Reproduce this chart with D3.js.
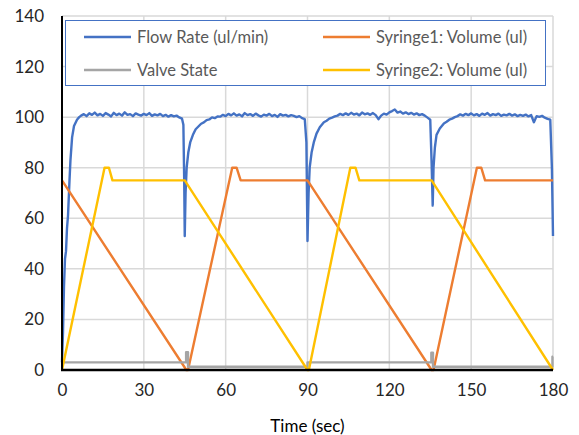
<!DOCTYPE html>
<html><head><meta charset="utf-8">
<script src="https://cdn.jsdelivr.net/npm/d3@7"></script>
<style>body{margin:0;background:#fff}svg{display:block}</style>
</head><body><svg id="c" width="579" height="435"></svg>
<script>
const xTicks = [0, 30, 60, 90, 120, 150, 180];
const yTicks = [0, 20, 40, 60, 80, 100, 120, 140];
const seriesNames = ["Flow Rate (ul/min)", "Syringe1: Volume (ul)", "Valve State", "Syringe2: Volume (ul)"];
const seriesColors = ["#4472C4", "#ED7D31", "#A5A5A5", "#FFC000"];
const xTitle = "Time (sec)";

const flowRate = [
 [0,3],[0.37,15],[0.73,33],[1.1,44],[1.47,47],[1.83,56],[2.2,61],[2.75,75],[3.1,83],[3.7,92],[4.4,96.5],[5.5,99],[6.3,100],
 [7,100.6],[8,101.2],[9,100.4],[10,101.5],[11,100.9],[12,101.8],[13,100.7],[14,101.3],[15,100.5],[16,101.6],[17,101.0],[18,100.3],
 [19,101.7],[20,100.8],[21,101.4],[22,100.6],[23,101.9],[24,100.9],[25,101.2],[26,100.4],[27,101.5],[28,101.0],[29,100.6],[30,101.3],
 [31,100.8],[32,101.6],[33,100.5],[34,101.1],[35,100.7],[36,101.3],[37,100.4],[38,100.9],[39,100.2],[40,100.8],[41,100.3],[42,100.6],[43,99.9],
 [44,99.4],[44.5,97],[44.8,75],[45,53],[45.3,70],[45.7,80],[46.3,86],[47,90],[48,93],[49,95.2],[50,96.3],[51,97.4],[52,97.9],[53,98.8],[54,99.1],[55,99.9],[56,99.6],[57,100.3],
 [58,100.2],[59,100.9],[60,100.4],[61,101.3],[62,100.7],[63,101.5],[64,100.6],[65,101.1],[66,100.3],[67,101.6],[68,100.8],[69,101.2],
 [70,100.5],[71,101.4],[72,100.7],[73,100.2],[74,101.0],[75,100.6],[76,101.3],[77,100.4],[78,100.9],[79,100.1],[80,101.2],[81,100.6],
 [82,100.9],[83,100.3],[84,100.8],[85,100.5],[86,100.0],[87,100.4],[88,99.6],
 [89,99.2],[89.6,90],[90,51],[90.4,70],[90.8,80],[91.5,86],[92.3,90],[93.3,93.5],[94.5,96],[96,98],[97,98.6],[98,99.4],[99,99.8],[100,100.3],
 [101,100.6],[102,101.3],[103,100.8],[104,101.5],[105,100.9],[106,101.7],[107,101.0],[108,101.4],[109,100.7],[110,101.8],[111,101.1],
 [112,101.5],[113,100.9],[114,101.6],[115,100.8],[116,99.2],[117,100.6],[118,101.4],[119,101.0],[120,101.9],[121,102.4],[122,103.0],
 [123,101.8],[124,102.2],[125,101.4],[126,101.9],[127,101.2],[128,101.7],[129,101.0],[130,101.5],[131,100.8],[132,101.2],[133,100.6],[134,99.8],
 [135,99],[135.5,82],[135.9,65],[136.2,80],[136.7,88],[137.3,93],[138.5,95.5],[140,97.5],[141,98.2],[142,99],[143,99.4],[144,100],
 [145,100.4],[146,101.1],[147,100.6],[148,101.3],[149,100.8],[150,101.5],[151,100.7],[152,101.2],[153,100.5],[154,101.4],[155,100.9],
 [156,101.6],[157,100.6],[158,101.2],[159,100.8],[160,101.4],[161,100.5],[162,101.0],[163,100.7],[164,101.3],[165,100.6],[166,101.1],
 [167,100.4],[168,100.9],[169,100.5],[170,101.0],[171,100.3],[172,100.8],[173,98.0],[174,100.4],[175,100.1],[176,100.5],[177,99.8],[178,99.3],
 [179,99],[179.6,80],[180,53]
];
const syringe1 = [[0,75],[45.6,0],[46.2,0],[62.4,80],[64,80],[65.5,75],[90,75],[135.5,0],[136.2,0],[152.1,80],[153.7,80],[155.1,75],[180,75]];
const valveState = [[0,3],[45.5,3],[45.5,7],[46.2,7],[46.2,1.3],[90,1.3],[90,3],[135.4,3],[135.4,6.8],[136,6.8],[136,1.3],[179.8,1.3],[179.8,5.3],[180,5.3]];
const syringe2 = [[0,0],[15.6,80],[17.2,80],[18.5,75],[45,75],[90,0],[90.5,0],[105.7,80],[107.6,80],[109,75],[135.5,75],[180,0]];

const svg = d3.select("#c");
const x = d3.scaleLinear().domain([0, 180]).range([62, 553]);
const y = d3.scaleLinear().domain([0, 140]).range([370, 16]);
const font = "Lato, 'Open Sans', sans-serif";

// grid
const g = svg.append("g");
g.selectAll(".gy").data(yTicks).join("line")
  .attr("x1", x(0)).attr("x2", x(180)).attr("y1", d => y(d)).attr("y2", d => y(d))
  .attr("stroke", "#d9d9d9").attr("stroke-width", 1.5);
g.selectAll(".gx").data(xTicks).join("line")
  .attr("y1", y(0)).attr("y2", y(140)).attr("x1", d => x(d)).attr("x2", d => x(d))
  .attr("stroke", "#d9d9d9").attr("stroke-width", 1.5);

// axes (ticks via d3 axes, lines drawn thick)
const yAxis = svg.append("g").attr("transform", `translate(${x(0)},0)`)
  .call(d3.axisLeft(y).tickValues(yTicks).tickSize(0).tickPadding(18));
const xAxis = svg.append("g").attr("transform", `translate(0,${y(0)})`)
  .call(d3.axisBottom(x).tickValues(xTicks).tickSize(0).tickPadding(14));
[yAxis, xAxis].forEach(a => {
  a.select(".domain").remove();
  a.selectAll("text").attr("font-family", font).attr("font-size", 17).attr("fill", "#262626");
});

const line = d3.line().x(d => x(d[0])).y(d => y(d[1]));
const allSeries = [flowRate, syringe1, valveState, syringe2];
allSeries.forEach((s, i) => {
  svg.append("path").datum(s).attr("d", line)
    .attr("fill", "none").attr("stroke", seriesColors[i]).attr("stroke-width", 2.4)
    .attr("stroke-linejoin", "round");
});

// axis lines
svg.append("line").attr("x1", x(0)).attr("x2", x(0)).attr("y1", y(140)).attr("y2", y(0) + 1)
  .attr("stroke", "#000").attr("stroke-width", 2);
svg.append("line").attr("x1", x(0) - 1).attr("x2", x(180)).attr("y1", y(0)).attr("y2", y(0))
  .attr("stroke", "#000").attr("stroke-width", 2.5);

// legend
const lg = svg.append("g");
lg.append("rect").attr("x", 65.5).attr("y", 20.5).attr("width", 480).attr("height", 65)
  .attr("fill", "#fff").attr("stroke", "#4472C4").attr("stroke-width", 1);
const legPos = [[84, 37], [323, 37], [84, 70], [323, 70]];
seriesNames.forEach((n, i) => {
  const [lx, ly] = legPos[i];
  lg.append("line").attr("x1", lx).attr("x2", lx + 47).attr("y1", ly).attr("y2", ly)
    .attr("stroke", seriesColors[i]).attr("stroke-width", 2.4);
  lg.append("text").attr("x", lx + 53).attr("y", ly).attr("dy", "0.35em")
    .attr("font-family", font).attr("font-size", 16.5).attr("fill", "#595959").text(n);
});

svg.append("text").attr("x", (x(0) + x(180)) / 2).attr("y", 432).attr("text-anchor", "middle")
  .attr("font-family", font).attr("font-size", 17).attr("fill", "#000").text(xTitle);
</script></body></html>
